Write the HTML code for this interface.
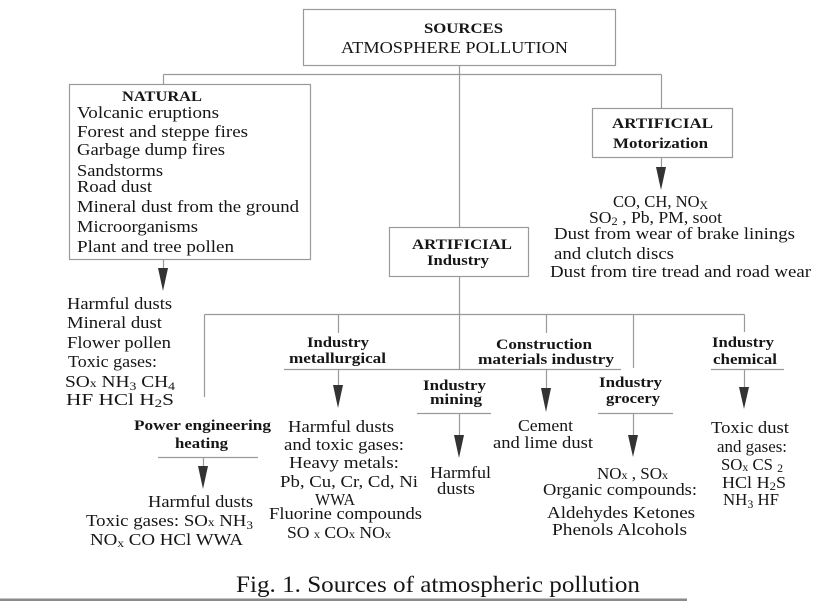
<!DOCTYPE html>
<html><head><meta charset="utf-8"><style>
html,body{margin:0;padding:0;background:#fff;}
svg{display:block;}
text{font-family:"Liberation Serif",serif;fill:#161616;}
.r{font-size:17px;}
.b{font-size:15px;font-weight:bold;}
.s{font-size:12px;}
</style></head><body>
<svg width="830" height="601" viewBox="0 0 830 601" xmlns="http://www.w3.org/2000/svg">
<g stroke="#9a9a9a" stroke-width="1.2" fill="none">
<rect x="303.5" y="9.5" width="312" height="56"/>
<rect x="69.5" y="84.5" width="241" height="175"/>
<rect x="592.5" y="108.5" width="140" height="49"/>
<rect x="389.5" y="227.5" width="139" height="49"/>
<path d="M459.5 65.5V227.5M163.5 74.5H661.5M163.5 74.5V84.5M661.5 74.5V108.5"/>
<path d="M163.5 259.5V270M661.5 157.5V169"/>
<path d="M459.5 276.5V369.5M204.5 314.5H744.5M204.5 314.5V397M338.5 314.5V333M546.5 314.5V333M633.5 314.5V368M744.5 314.5V332"/>
<path d="M284 369.5H621M338.5 369.5V387M546.5 369.5V390"/>
<path d="M417 413.5H491M459.5 413.5V437M598 413.5H673M633.5 413.5V437"/>
<path d="M711 369.5H784M744.5 369.5V389"/>
<path d="M158 457.5H258M203.5 457.5V468"/>
</g>
<g fill="#333">
<polygon points="158,268 168,268 163,291"/>
<polygon points="656,167 666,167 661,190"/>
<polygon points="333,385 343,385 338,408"/>
<polygon points="541,388 551,388 546,412"/>
<polygon points="454,435 464,435 459,458"/>
<polygon points="628,435 638,435 633,457"/>
<polygon points="739,387 749,387 744,409"/>
<polygon points="198,466 208,466 203,489"/>
</g>

<!-- top -->
<text class="b" x="424" y="33" textLength="79" lengthAdjust="spacingAndGlyphs">SOURCES</text>
<text class="r" x="341" y="53" textLength="227" lengthAdjust="spacingAndGlyphs">ATMOSPHERE POLLUTION</text>

<!-- natural -->
<text class="b" x="122" y="101" textLength="80" lengthAdjust="spacingAndGlyphs">NATURAL</text>
<text class="r" x="77" y="118" textLength="142" lengthAdjust="spacingAndGlyphs">Volcanic eruptions</text>
<text class="r" x="77" y="137" textLength="171" lengthAdjust="spacingAndGlyphs">Forest and steppe fires</text>
<text class="r" x="77" y="155" textLength="148" lengthAdjust="spacingAndGlyphs">Garbage dump fires</text>
<text class="r" x="77" y="176" textLength="86" lengthAdjust="spacingAndGlyphs">Sandstorms</text>
<text class="r" x="77" y="192" textLength="75" lengthAdjust="spacingAndGlyphs">Road dust</text>
<text class="r" x="77" y="212" textLength="222" lengthAdjust="spacingAndGlyphs">Mineral dust from the ground</text>
<text class="r" x="77" y="232" textLength="121" lengthAdjust="spacingAndGlyphs">Microorganisms</text>
<text class="r" x="77" y="252" textLength="157" lengthAdjust="spacingAndGlyphs">Plant and tree pollen</text>

<text class="r" x="67" y="309" textLength="105" lengthAdjust="spacingAndGlyphs">Harmful dusts</text>
<text class="r" x="67" y="328" textLength="95" lengthAdjust="spacingAndGlyphs">Mineral dust</text>
<text class="r" x="67" y="348" textLength="104" lengthAdjust="spacingAndGlyphs">Flower pollen</text>
<text class="r" x="68" y="367" textLength="89" lengthAdjust="spacingAndGlyphs">Toxic gases:</text>
<text class="r" x="65" y="387" textLength="110" lengthAdjust="spacingAndGlyphs">SO<tspan class="s">x</tspan>  NH<tspan class="s" dy="3">3</tspan><tspan dy="-3">  CH</tspan><tspan class="s" dy="3">4</tspan></text>
<text class="r" x="66" y="405" textLength="108" lengthAdjust="spacingAndGlyphs">HF   HCl   H<tspan class="s" dy="2">2</tspan><tspan dy="-2">S</tspan></text>

<!-- motorization -->
<text class="b" x="612" y="128" textLength="101" lengthAdjust="spacingAndGlyphs">ARTIFICIAL</text>
<text class="b" x="613" y="148" textLength="95" lengthAdjust="spacingAndGlyphs">Motorization</text>
<text class="r" x="613" y="207" textLength="95" lengthAdjust="spacingAndGlyphs">CO, CH, NO<tspan class="s" dy="2">X</tspan></text>
<text class="r" x="589" y="223" textLength="133" lengthAdjust="spacingAndGlyphs">SO<tspan class="s" dy="2">2</tspan><tspan dy="-2"> , Pb, PM, soot</tspan></text>
<text class="r" x="554" y="239" textLength="241" lengthAdjust="spacingAndGlyphs">Dust from wear of brake linings</text>
<text class="r" x="554" y="259" textLength="120" lengthAdjust="spacingAndGlyphs">and clutch discs</text>
<text class="r" x="550" y="277" textLength="261" lengthAdjust="spacingAndGlyphs">Dust from tire tread and road wear</text>

<!-- industry -->
<text class="b" x="412" y="249" textLength="100" lengthAdjust="spacingAndGlyphs">ARTIFICIAL</text>
<text class="b" x="427" y="265" textLength="62" lengthAdjust="spacingAndGlyphs">Industry</text>

<!-- metallurgical -->
<text class="b" x="307" y="347" textLength="62" lengthAdjust="spacingAndGlyphs">Industry</text>
<text class="b" x="289" y="363" textLength="97" lengthAdjust="spacingAndGlyphs">metallurgical</text>
<text class="r" x="288" y="432" textLength="106" lengthAdjust="spacingAndGlyphs">Harmful dusts</text>
<text class="r" x="284" y="450" textLength="120" lengthAdjust="spacingAndGlyphs">and toxic gases:</text>
<text class="r" x="289" y="468" textLength="110" lengthAdjust="spacingAndGlyphs">Heavy metals:</text>
<text class="r" x="280" y="487" textLength="138" lengthAdjust="spacingAndGlyphs">Pb, Cu, Cr, Cd, Ni</text>
<text class="r" x="315" y="505" textLength="40" lengthAdjust="spacingAndGlyphs">WWA</text>
<text class="r" x="269" y="519" textLength="153" lengthAdjust="spacingAndGlyphs">Fluorine compounds</text>
<text class="r" x="287" y="538" textLength="104" lengthAdjust="spacingAndGlyphs">SO <tspan class="s">x</tspan> CO<tspan class="s">x</tspan> NO<tspan class="s">x</tspan></text>

<!-- construction -->
<text class="b" x="496" y="349" textLength="96" lengthAdjust="spacingAndGlyphs">Construction</text>
<text class="b" x="478" y="364" textLength="136" lengthAdjust="spacingAndGlyphs">materials industry</text>
<text class="r" x="518" y="431" textLength="55" lengthAdjust="spacingAndGlyphs">Cement</text>
<text class="r" x="493" y="448" textLength="100" lengthAdjust="spacingAndGlyphs">and lime dust</text>

<!-- mining -->
<text class="b" x="423" y="390" textLength="63" lengthAdjust="spacingAndGlyphs">Industry</text>
<text class="b" x="430" y="404" textLength="52" lengthAdjust="spacingAndGlyphs">mining</text>
<text class="r" x="430" y="478" textLength="61" lengthAdjust="spacingAndGlyphs">Harmful</text>
<text class="r" x="437" y="494" textLength="38" lengthAdjust="spacingAndGlyphs">dusts</text>

<!-- grocery -->
<text class="b" x="599" y="387" textLength="63" lengthAdjust="spacingAndGlyphs">Industry</text>
<text class="b" x="606" y="403" textLength="54" lengthAdjust="spacingAndGlyphs">grocery</text>
<text class="r" x="597" y="479" textLength="71" lengthAdjust="spacingAndGlyphs">NO<tspan class="s">x</tspan> , SO<tspan class="s">x</tspan></text>
<text class="r" x="543" y="495" textLength="154" lengthAdjust="spacingAndGlyphs">Organic compounds:</text>
<text class="r" x="547" y="518" textLength="148" lengthAdjust="spacingAndGlyphs">Aldehydes  Ketones</text>
<text class="r" x="552" y="535" textLength="135" lengthAdjust="spacingAndGlyphs">Phenols  Alcohols</text>

<!-- chemical -->
<text class="b" x="712" y="347" textLength="62" lengthAdjust="spacingAndGlyphs">Industry</text>
<text class="b" x="713" y="364" textLength="64" lengthAdjust="spacingAndGlyphs">chemical</text>
<text class="r" x="711" y="433" textLength="78" lengthAdjust="spacingAndGlyphs">Toxic dust</text>
<text class="r" x="717" y="452" textLength="70" lengthAdjust="spacingAndGlyphs">and gases:</text>
<text class="r" x="721" y="470" textLength="62" lengthAdjust="spacingAndGlyphs">SO<tspan class="s" dy="1">x</tspan><tspan dy="-1"> CS </tspan><tspan class="s" dy="2">2</tspan></text>
<text class="r" x="722" y="488" textLength="64" lengthAdjust="spacingAndGlyphs">HCl  H<tspan class="s" dy="2">2</tspan><tspan dy="-2">S</tspan></text>
<text class="r" x="723" y="505" textLength="56" lengthAdjust="spacingAndGlyphs">NH<tspan class="s" dy="3">3</tspan><tspan dy="-3"> HF</tspan></text>

<!-- power -->
<text class="b" x="134" y="430" textLength="137" lengthAdjust="spacingAndGlyphs">Power engineering</text>
<text class="b" x="175" y="448" textLength="53" lengthAdjust="spacingAndGlyphs">heating</text>
<text class="r" x="148" y="507" textLength="105" lengthAdjust="spacingAndGlyphs">Harmful dusts</text>
<text class="r" x="86" y="526" textLength="167" lengthAdjust="spacingAndGlyphs">Toxic gases: SO<tspan class="s">x</tspan>  NH<tspan class="s" dy="3">3</tspan></text>
<text class="r" x="90" y="545" textLength="153" lengthAdjust="spacingAndGlyphs">NO<tspan class="s" dy="2">x</tspan><tspan dy="-2">  CO   HCl  WWA</tspan></text>

<!-- caption -->
<text x="236" y="592" style="font-size:23px" textLength="404" lengthAdjust="spacingAndGlyphs">Fig. 1. Sources of atmospheric pollution</text>
<rect x="0" y="598.5" width="687" height="2.5" fill="#8a8a8a"/>
</svg>
</body></html>
